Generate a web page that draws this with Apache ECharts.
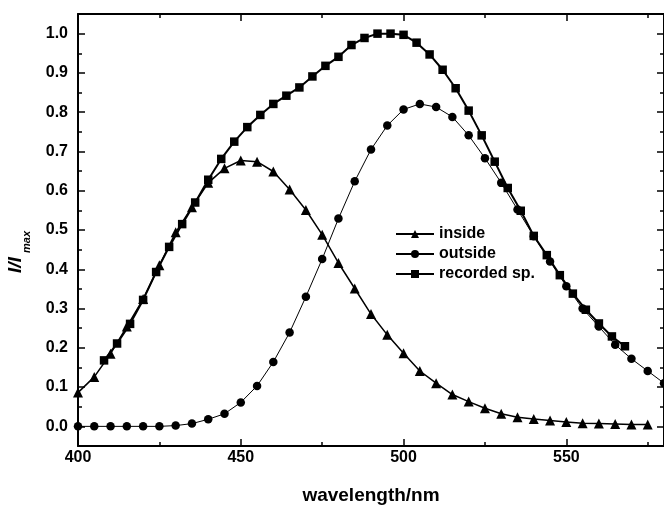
<!DOCTYPE html>
<html><head><meta charset="utf-8">
<script src="https://cdn.jsdelivr.net/npm/echarts@6/dist/echarts.min.js"></script>
<style>html,body{margin:0;padding:0;background:#fff}#c{width:664px;height:510px}</style>
</head><body><div id="c"></div>
<script>
// ---- data ----
const insideWavelength = [400,405,410,415,420,425,430,435,440,445,450,455,460,465,470,475,480,485,490,495,500,505,510,515,520,525,530,535,540,545,550,555,560,565,570,575];
const insideValues = [0.086,0.126,0.185,0.254,0.324,0.410,0.494,0.558,0.620,0.657,0.677,0.674,0.649,0.603,0.551,0.488,0.416,0.351,0.286,0.233,0.186,0.141,0.110,0.081,0.063,0.046,0.032,0.023,0.019,0.015,0.011,0.008,0.007,0.006,0.005,0.005];

const outsideWavelength = [400,405,410,415,420,425,430,435,440,445,450,455,460,465,470,475,480,485,490,495,500,505,510,515,520,525,530,535,540,545,550,555,560,565,570,575,580];
const outsideValues = [0.0,0.0,0.0,0.0,0.0,0.0,0.002,0.007,0.018,0.032,0.061,0.103,0.164,0.239,0.330,0.426,0.529,0.624,0.705,0.766,0.807,0.821,0.813,0.788,0.741,0.683,0.620,0.552,0.484,0.420,0.357,0.300,0.254,0.208,0.172,0.141,0.110];

const recordedWavelength = [408,412,416,420,424,428,432,436,440,444,448,452,456,460,464,468,472,476,480,484,488,492,496,500,504,508,512,516,520,524,528,532,536,540,544,548,552,556,560,564,568];
const recordedValues = [0.168,0.211,0.261,0.322,0.393,0.457,0.515,0.570,0.628,0.681,0.725,0.762,0.793,0.821,0.842,0.863,0.891,0.918,0.941,0.971,0.989,1.000,1.000,0.997,0.977,0.947,0.908,0.861,0.804,0.741,0.674,0.607,0.549,0.485,0.436,0.385,0.338,0.297,0.262,0.229,0.204];

const seriesNames = ['inside','outside','recorded sp.'];
const xMajorTicks = [400,450,500,550];
const xMinorTicks = [425,475,525,575];
const yMajorTicks = [0,0.1,0.2,0.3,0.4,0.5,0.6,0.7,0.8,0.9,1.0];
const yMinorTicks = [0.05,0.15,0.25,0.35,0.45,0.55,0.65,0.75,0.85,0.95];
const xTitle = 'wavelength/nm';

// ---- chart ----
const FONT = 'Liberation Sans, Arial, Helvetica, sans-serif';
const black = '#000';
function pairs(xs, ys){ return xs.map((x,i)=>[x, ys[i]]); }

function xAx(pos, major, showLine, showLabel){
  return {
    type:'value', min:400, max:580, position:pos,
    axisLine:{show:showLine, onZero:false, lineStyle:{color:black,width:2}},
    axisTick:{show:true, inside:true, length: major?7:4, customValues: major?xMajorTicks:xMinorTicks, lineStyle:{color:black,width:1.5}},
    axisLabel:{show:showLabel, customValues:xMajorTicks, color:black, fontSize:16, fontWeight:'bold', fontFamily:FONT, margin:4},
    splitLine:{show:false}
  };
}
function yAx(pos, major, showLine, showLabel){
  return {
    type:'value', min:-0.05, max:1.05, position:pos,
    axisLine:{show:showLine, onZero:false, lineStyle:{color:black,width:2}},
    axisTick:{show:true, inside:true, length: major?7:4, customValues: major?yMajorTicks:yMinorTicks, lineStyle:{color:black,width:1.5}},
    axisLabel:{show:showLabel, customValues:yMajorTicks, color:black, fontSize:16, fontWeight:'bold', fontFamily:FONT, margin:10,
      formatter: v => Number(v).toFixed(1)},
    splitLine:{show:false}
  };
}

const xBottom = xAx('bottom', true, true, true);
xBottom.name = xTitle;
xBottom.nameLocation = 'middle';
xBottom.nameGap = 40;
xBottom.nameTextStyle = {color:black, fontSize:19, fontWeight:'bold', fontFamily:FONT};

const chart = echarts.init(document.getElementById('c'), null, {renderer:'canvas'});
chart.setOption({
  animation:false,
  backgroundColor:'#fff',
  grid:{left:78, top:14, width:590, height:437, containLabel:false},
  xAxis:[ xBottom, xAx('bottom', false, false, false), xAx('top', true, true, false), xAx('top', false, false, false) ],
  yAxis:[ yAx('left', true, true, true), yAx('left', false, false, false), yAx('right', true, true, false), yAx('right', false, false, false) ],
  legend:{
    orient:'vertical', left:390, top:220,
    itemWidth:38, itemHeight:10, itemGap:2,
    textStyle:{color:black, fontSize:16, fontWeight:'bold', fontFamily:FONT, lineHeight:18},
    data: seriesNames
  },
  graphic:[
    {type:'text', x:16, y:265, rotation:Math.PI/2,
     style:{text:'I/I', fill:black, font:'italic bold 19px '+FONT, align:'center', verticalAlign:'middle'}},
    {type:'text', x:27, y:242, rotation:Math.PI/2,
     style:{text:'max', fill:black, font:'italic bold 11px '+FONT, align:'center', verticalAlign:'middle'}}
  ],
  series:[
    {name:seriesNames[0], type:'line', xAxisIndex:0, yAxisIndex:0, data:pairs(insideWavelength, insideValues),
     symbol:'triangle', symbolSize:10, lineStyle:{color:black,width:1.5}, itemStyle:{color:black}},
    {name:seriesNames[1], type:'line', xAxisIndex:0, yAxisIndex:0, data:pairs(outsideWavelength, outsideValues),
     symbol:'circle', symbolSize:8.5, lineStyle:{color:black,width:1}, itemStyle:{color:black}},
    {name:seriesNames[2], type:'line', xAxisIndex:0, yAxisIndex:0, data:pairs(recordedWavelength, recordedValues),
     symbol:'rect', symbolSize:8.5, lineStyle:{color:black,width:2}, itemStyle:{color:black}}
  ]
});
</script></body></html>
